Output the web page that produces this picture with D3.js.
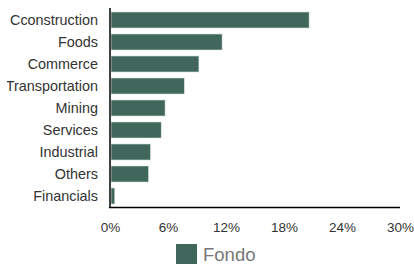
<!DOCTYPE html>
<html>
<head>
<meta charset="utf-8">
<script src="https://cdn.jsdelivr.net/npm/d3@7"></script>
<style>
  body { margin: 0; background: #fff; }
  svg { display: block; font-family: "Liberation Sans", Arial, sans-serif; }
</style>
</head>
<body>
<div id="chart"></div>
<script>
// sector weights
var categories = ["Cconstruction", "Foods", "Commerce", "Transportation", "Mining", "Services", "Industrial", "Others", "Financials"];
var fondoValues = [20.6, 11.6, 9.2, 7.7, 5.7, 5.3, 4.2, 4.0, 0.5];
var tickValues = [0, 6, 12, 18, 24, 30];
var seriesName = "Fondo";

var width = 414, height = 264;
var barColor = "#41665b";

var svg = d3.select("#chart")
  .append("svg")
  .attr("width", width)
  .attr("height", height);

// the labels get cut a few px in from the left edge, like in the original
svg.append("clipPath")
  .attr("id", "labelClip")
  .append("rect")
  .attr("x", 7).attr("y", 0)
  .attr("width", 100).attr("height", 210);

var x = d3.scaleLinear().domain([0, 30]).range([110, 400]);
var y = d3.scaleBand()
  .domain(categories)
  .range([9, 207])
  .paddingInner(0.27)
  .paddingOuter(0.135);

// bars
svg.selectAll("rect.bar")
  .data(fondoValues)
  .enter()
    .append("rect")
    .attr("class", "bar")
    .attr("x", x(0) + 1)
    .attr("y", function (d, i) { return y(categories[i]); })
    .attr("width", function (d) { return x(d) - x(0) - 1; })
    .attr("height", y.bandwidth())
    .attr("fill", barColor)
    .attr("stroke", "#e8eeec")
    .attr("stroke-width", 0.6);

// category labels
svg.append("g")
  .attr("clip-path", "url(#labelClip)")
  .selectAll("text.cat")
  .data(categories)
  .enter()
    .append("text")
    .attr("class", "cat")
    .attr("x", 98)
    .attr("y", function (d) { return y(d) + y.bandwidth() / 2; })
    .attr("dy", "0.35em")
    .attr("text-anchor", "end")
    .attr("font-size", 14.4)
    .attr("fill", "#333")
    .text(function (d) { return d; });

// axis lines
svg.append("line")
  .attr("x1", 110).attr("x2", 110)
  .attr("y1", 8).attr("y2", 208)
  .attr("stroke", "#000").attr("stroke-width", 1.5);
svg.append("line")
  .attr("x1", 109).attr("x2", 400)
  .attr("y1", 207.5).attr("y2", 207.5)
  .attr("stroke", "#000").attr("stroke-width", 1.5);

// x tick labels
var xAxis = d3.axisBottom(x)
  .tickValues(tickValues)
  .tickSize(0)
  .tickPadding(0)
  .tickFormat(function (d) { return d + "%"; });

var gx = svg.append("g")
  .attr("transform", "translate(0,222)")
  .call(xAxis);
gx.select(".domain").remove();
gx.selectAll("text")
  .attr("font-size", 13.5)
  .attr("font-family", "Liberation Sans, Arial, sans-serif")
  .attr("fill", "#333");

// legend
svg.append("rect")
  .attr("x", 176).attr("y", 244)
  .attr("width", 21).attr("height", 21)
  .attr("fill", barColor);
svg.append("text")
  .attr("x", 203).attr("y", 261)
  .attr("font-size", 18.5)
  .attr("fill", "#777")
  .text(seriesName);
</script>
</body>
</html>
